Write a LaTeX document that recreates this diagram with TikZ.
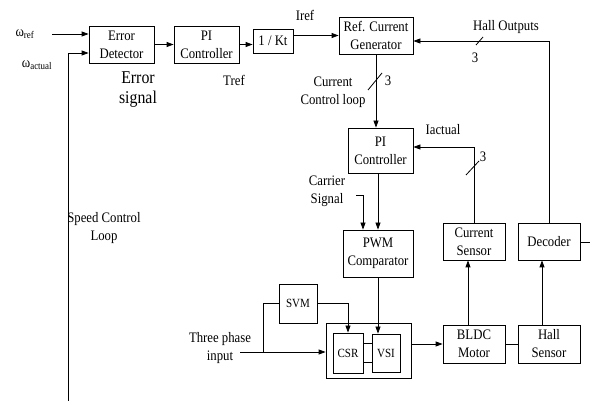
\documentclass[tikz,border=0pt]{standalone}
\usepackage{fontspec}
\setmainfont{Liberation Serif}[FakeStretch=0.88]
\usetikzlibrary{arrows.meta,calc}
\begin{document}
\begin{tikzpicture}[x=1pt,y=-1pt,
  txt/.style={font=\fontsize{14.5}{18}\selectfont, align=center, inner sep=0pt},
  box/.style={draw, line width=0.8pt, txt},
  smalltxt/.style={font=\fontsize{12.5}{14}\selectfont},
  arr/.style={-{Triangle[length=7pt,width=5pt]}, line width=0.8pt},
  ln/.style={line width=0.8pt}]
\useasboundingbox (0,0) rectangle (590,401);
% boxes
\node[box, minimum width=65pt, minimum height=37pt] (ed) at (121.5,44.5) {Error\\Detector};
\node[box, minimum width=65pt, minimum height=37pt] (pi1) at (206.5,44.5) {PI\\Controller};
\node[box, minimum width=40pt, minimum height=24pt] (kt) at (273,41) {1 / Kt};
\node[box, minimum width=74pt, minimum height=37pt] (rg) at (376,35.5) {Ref. Current\\Generator};
\node[box, minimum width=65pt, minimum height=45pt] (pi2) at (380.5,150.5) {PI\\Controller};
\node[box, minimum width=70pt, minimum height=47pt] (pwm) at (378,253.5) {PWM\\Comparator};
\node[box, minimum width=62pt, minimum height=37pt] (cs) at (474,241.5) {Current\\Sensor};
\node[box, minimum width=62pt, minimum height=37pt] (dec) at (549,241.5) {Decoder};
\node[box, smalltxt, minimum width=38pt, minimum height=39pt] (svm) at (298,303.5) {SVM};
\node[box, minimum width=85pt, minimum height=55pt] (outer) at (368.5,350.5) {};
\node[box, smalltxt, minimum width=30pt, minimum height=40pt] (csr) at (348,353) {CSR};
\node[box, smalltxt, minimum width=28pt, minimum height=38pt] (vsi) at (386,353) {VSI};
\node[box, minimum width=62pt, minimum height=38pt] (bldc) at (474,344) {BLDC\\Motor};
\node[box, minimum width=62pt, minimum height=38pt] (hall) at (549,344) {Hall\\Sensor};
% labels
\node[txt] (lwr) at (25,34) {ω\textsubscript{ref}};
\node[txt] (lwa) at (37,65) {ω\textsubscript{actual}};
\node[txt, font=\fontsize{18}{20}\selectfont] (les) at (138,90) {Error\\signal};
\node[txt] (ltref) at (234,80) {Tref};
\node[txt] (liref) at (305,15) {Iref};
\node[txt] (lho) at (506,27) {Hall Outputs};
\node[txt] (l3a) at (475,58) {3};
\node[txt] (lccl) at (333,92.5) {Current\\Control loop};
\node[txt] (l3b) at (388,81) {3};
\node[txt] (liact) at (443,130) {Iactual};
\node[txt] (l3c) at (483,157) {3};
\node[txt] (lcs) at (327,191) {Carrier\\Signal};
\node[txt] (lscl) at (104,228.5) {Speed Control\\Loop};
\node[txt] (ltpi) at (220,348) {Three phase\\input};
% coordinates
\coordinate (wr) at (52,34);
\coordinate (bot) at (68,401);
\coordinate (wa) at (68,53);
\coordinate (cst) at (356,195);
\coordinate (cjt) at (363,195);
\coordinate (tp) at (240,352);
\coordinate (tj) at (263,352);
\coordinate (decout) at (590,242);
% connectors
\draw[arr] (wr) -- (wr -| ed.west);
\draw[arr] (bot) -- (wa) -- (wa -| ed.west);
\draw[arr] (ed) -- (pi1);
\draw[arr] (pi1.east) -- (pi1.east -| kt.west);
\draw[arr] (kt.east |- rg) -- (rg.west);
\draw[arr] (dec.north) |- ($(rg.east)+(0,5.5)$);
\draw[arr] (rg.south) -- (rg.south |- pi2.north);
\draw[arr] (cs.north) |- ($(pi2.east)+(0,-3.5)$);
\draw[arr] (pi2.south -| pwm) -- (pwm.north);
\draw[arr] (cst) -- (cjt) -- (cjt |- pwm.north);
\draw[arr] (pwm.south) -- (pwm.south |- vsi.north);
\draw[arr] (svm.east) -| (csr.north);
\draw[arr] (tp) -- (tp -| outer.west);
\draw[ln] (tj) |- (svm.west);
\draw[ln] ($(csr.east)+(0,-10)$) -- ($(vsi.west)+(0,-10)$);
\draw[ln] ($(csr.east)+(0,9)$) -- ($(vsi.west)+(0,9)$);
\draw[arr] (outer.east |- bldc) -- (bldc.west);
\draw[ln] (bldc) -- (hall);
\draw[arr] ($(bldc.north)+(-6,0)$) -- ($(cs.south)+(-6,0)$);
\draw[arr] ($(hall.north)+(-7,0)$) -- ($(dec.south)+(-7,0)$);
\draw[ln] (dec.east |- decout) -- (decout);
% bus slashes
\draw[ln] (476,45) -- (483,37);
\draw[ln] (368,90) -- (382,73);
\draw[ln] (466,175) -- (479,161);
\end{tikzpicture}
\end{document}
